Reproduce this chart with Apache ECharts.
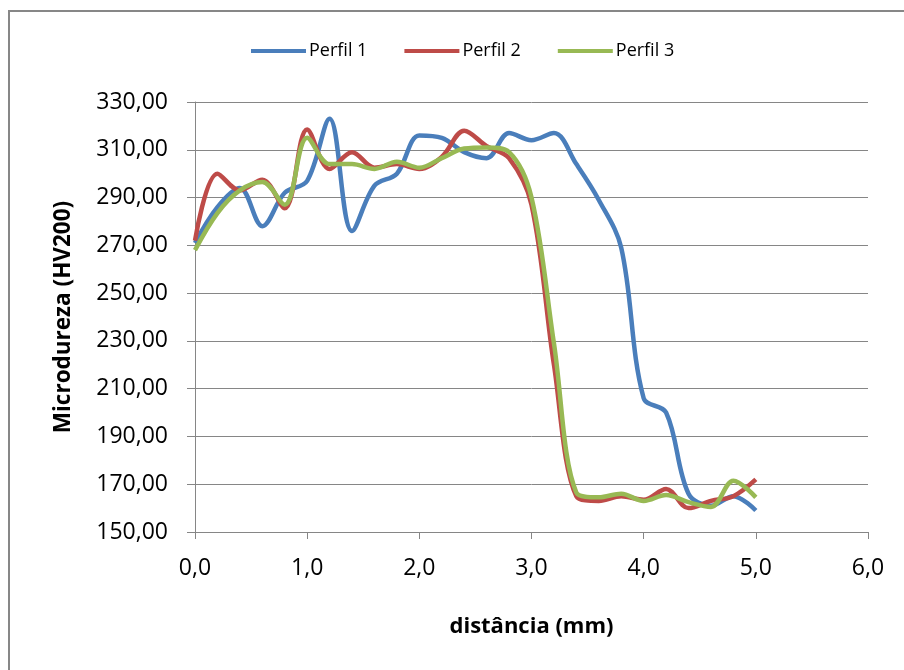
<!DOCTYPE html>
<html>
<head>
<meta charset="utf-8">
<title>Microdureza</title>
<script src="https://cdn.jsdelivr.net/npm/echarts@6/dist/echarts.min.js"></script>
<style>
  html, body { margin: 0; padding: 0; background: #ffffff; }
  #chart { width: 904px; height: 670px; }
</style>
</head>
<body>
<div id="chart"></div>
<script>
// Distance from the surface (mm) at each indentation
const distancias = [0.0, 0.2, 0.4, 0.6, 0.8, 1.0, 1.2, 1.4, 1.6, 1.8, 2.0, 2.2, 2.4,
                    2.6, 2.8, 3.0, 3.2, 3.4, 3.6, 3.8, 4.0, 4.2, 4.4, 4.6, 4.8, 5.0];

// Hardness readings (HV200) per profile
const perfil1 = [271, 286, 294, 278, 292, 297, 323, 276, 295, 300, 316, 315, 309,
                 306.5, 317, 314, 317, 304, 289, 269, 206, 200, 166, 161, 165, 159];
const perfil2 = [272, 300, 293, 297.5, 285.5, 318.5, 302, 309, 302.5, 304, 302, 307, 318,
                 311.5, 306.5, 287, 220, 165, 163, 165, 163.5, 168, 160, 163, 165, 172];
const perfil3 = [268, 283.5, 293, 296.5, 287, 315, 304, 304, 302, 305, 302.5, 306.5, 310.5,
                 311, 309, 290, 229, 166.5, 164.5, 166, 163, 165.5, 162.5, 160.5, 171.5, 164.5];

const seriesNames = ['Perfil 1', 'Perfil 2', 'Perfil 3'];
const seriesColors = ['#4A7EBB', '#BE4B48', '#98B954'];
const seriesValues = [perfil1, perfil2, perfil3];

const FONT = '"Open Sans", "Liberation Sans", sans-serif';
const GRID_GRAY = '#868686';

const comma = (v, d) => v.toFixed(d).replace('.', ',');

const chart = echarts.init(document.getElementById('chart'), null, { renderer: 'canvas' });

chart.setOption({
  backgroundColor: '#ffffff',
  animation: false,
  graphic: [{
    type: 'rect',
    silent: true,
    shape: { x: 9, y: 11, width: 1000, height: 1000 },
    style: { fill: 'none', stroke: '#878787', lineWidth: 2 }
  }],
  legend: {
    left: 246,
    top: 37,
    itemWidth: 55,
    itemHeight: 4,
    itemGap: 37,
    icon: 'rect',
    textStyle: { fontFamily: FONT, fontSize: 18, color: '#000', padding: [0, 0, 0, -2] },
    data: seriesNames
  },
  grid: { left: 195, right: 36, top: 102, bottom: 138, containLabel: false },
  xAxis: {
    type: 'value',
    min: 0,
    max: 6,
    interval: 1,
    name: 'distância (mm)',
    nameLocation: 'middle',
    nameGap: 84,
    nameTextStyle: { fontFamily: FONT, fontSize: 22, fontWeight: 'bold', color: '#000' },
    axisLine: { show: true, lineStyle: { color: GRID_GRAY, width: 1 } },
    axisTick: { show: true, length: 7, lineStyle: { color: GRID_GRAY } },
    axisLabel: {
      fontFamily: FONT, fontSize: 23, color: '#000', margin: 25,
      formatter: v => comma(v, 1)
    },
    splitLine: { show: false }
  },
  yAxis: {
    type: 'value',
    min: 150,
    max: 330,
    interval: 20,
    name: 'Microdureza (HV200)',
    nameLocation: 'middle',
    nameRotate: 90,
    nameGap: 120,
    nameTextStyle: { fontFamily: FONT, fontSize: 22.5, fontWeight: 'bold', color: '#000' },
    axisLine: { show: true, lineStyle: { color: GRID_GRAY, width: 1 } },
    axisTick: { show: true, length: 8, lineStyle: { color: GRID_GRAY } },
    axisLabel: {
      fontFamily: FONT, fontSize: 23, color: '#000', margin: 27,
      formatter: v => comma(v, 2)
    },
    splitLine: { show: true, lineStyle: { color: GRID_GRAY, width: 1 } }
  },
  series: seriesNames.map((name, i) => ({
    name: name,
    type: 'line',
    smooth: 0.35,
    symbol: 'none',
    showSymbol: false,
    color: seriesColors[i],
    lineStyle: { color: seriesColors[i], width: 4.5 },
    data: distancias.map((x, k) => [x, seriesValues[i][k]])
  }))
});
</script>
</body>
</html>
